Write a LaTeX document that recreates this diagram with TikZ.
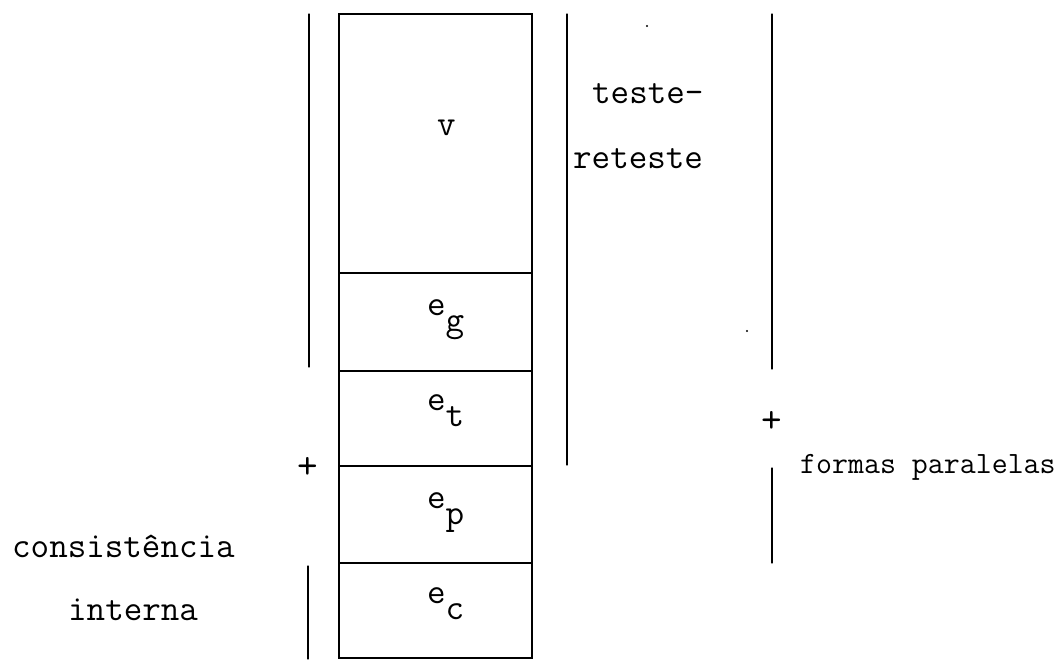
\documentclass[tikz,border=0pt]{standalone}
\usepackage{fontspec}
\setmonofont{Latin Modern Mono}
\begin{document}
\begin{tikzpicture}[x=1pt,y=-1pt,
  ln/.style={line width=1.3pt,line cap=round},
  tw/.style={font=\ttfamily\fontsize{36}{40}\selectfont,inner sep=0pt,anchor=base west},
  twsmall/.style={font=\ttfamily\fontsize{31}{34}\selectfont,inner sep=0pt,anchor=base west},
  plussign/.style={font=\ttfamily\fontsize{40}{44}\selectfont,inner sep=0pt}]
\useasboundingbox (0,0) rectangle (1058,659);
% column of cells
\draw[ln] (339,14) rectangle (532,658);
\foreach \y in {273,371,466,563} \draw[ln] (339,\y) -- (532,\y);
% labels in the cells
\node[tw] (v) at (437,135) {v};
\node[tw] (eg) at (427,315) {e\raisebox{-16pt}{g}};
\node[tw] (et) at (427,410) {e\raisebox{-16pt}{t}};
\node[tw] (ep) at (427,508) {e\raisebox{-16pt}{p}};
\node[tw] (ec) at (427,603) {e\raisebox{-16pt}{c}};
% left brackets
\draw[ln] (309,14) -- (309,367);
\draw[ln] (308,566) -- (308,659);
\node[plussign] (pl) at (308,468) {+};
% teste-reteste
\draw[ln] (567,14) -- (567,465);
\node[tw] (t1) at (592,103) {teste-};
\node[tw] (t2) at (573,168) {reteste};
% formas paralelas
\draw[ln] (772,14) -- (772,369);
\draw[ln] (772,468) -- (772,563);
\node[plussign] (pr) at (772,422) {+};
\node[twsmall] (fp) at (800,473) {formas paralelas};
% consistencia interna
\node[tw] (c1) at (12,557) {consistência};
\node[tw] (c2) at (68,620) {interna};
% stray dots
\fill (647,26) circle (1.2pt);
\fill (747,331) circle (1.2pt);
\end{tikzpicture}
\end{document}
